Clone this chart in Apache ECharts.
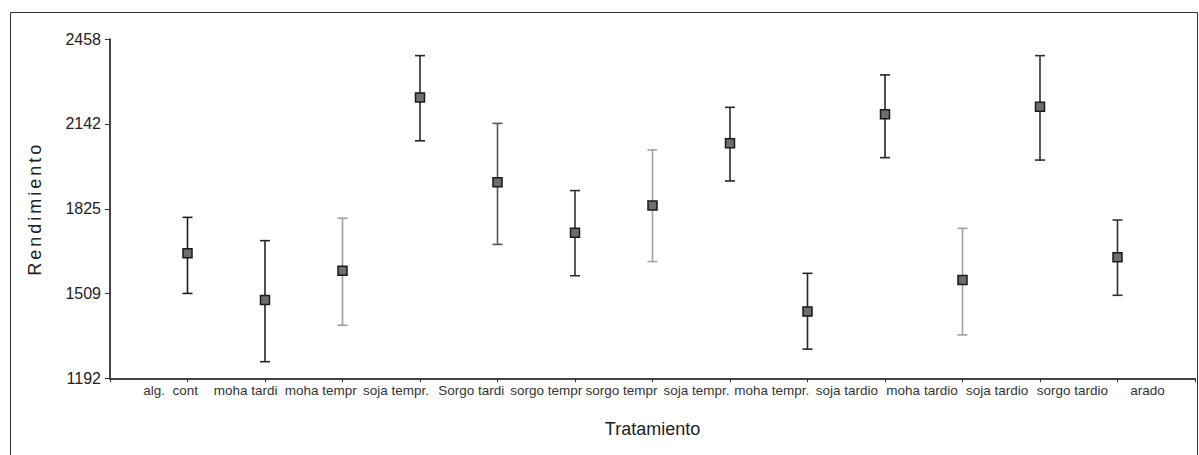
<!DOCTYPE html>
<html>
<head>
<meta charset="utf-8">
<script src="https://cdn.jsdelivr.net/npm/echarts@6/dist/echarts.min.js"></script>
<style>
html,body{margin:0;padding:0;background:#fff;}
#c{width:1199px;height:455px;}
</style>
</head>
<body>
<div id="c"></div>
<script>
// ---- data ----
const tickLabels = ["alg.  cont","moha tardi","moha tempr","soja tempr.","Sorgo tardi","sorgo tempr","sorgo tempr","soja tempr.","moha tempr.","soja tardio","moha tardio","soja tardio","sorgo tardio","arado"];
const means = [1659, 1484, 1594, 2241, 1924, 1736, 1837, 2070, 1441, 2178, 1559, 2206, 1644];
const upper = [1793, 1706, 1790, 2397, 2144, 1893, 2045, 2204, 1584, 2325, 1752, 2397, 1783];
const lower = [1509, 1254, 1390, 2079, 1692, 1575, 1628, 1929, 1301, 2016, 1354, 2007, 1502];
const yTicks = [1192, 1509, 1825, 2142, 2458];

// ---- styles ----
const barColors = ['#1e1e1e','#262626','#9c9c9c','#262626','#555555','#303030','#a2a2a2','#262626','#262626','#262626','#a0a0a0','#303030','#303030'];
const FONT = 'Liberation Sans, Arial, sans-serif';

const chart = echarts.init(document.getElementById('c'), null, {renderer: 'svg'});

const option = {
  animation: false,
  backgroundColor: '#fff',
  graphic: [{
    type: 'rect', silent: true, z: -10,
    shape: {x: 10.5, y: 12.5, width: 1187, height: 470},
    style: {fill: null, stroke: '#333', lineWidth: 1}
  }],
  grid: [
    {left: 110, right: 4, top: 39.3, bottom: 76.7},
    {left: 133, right: 14, top: 377.3, bottom: 76.7}
  ],
  xAxis: [{
    gridIndex: 0, type: 'value', min: 0, max: 14, interval: 1,
    axisLine: {show: true, lineStyle: {color: '#444', width: 2}},
    axisTick: {show: true, length: 4, lineStyle: {color: '#333', width: 1}},
    axisLabel: {show: false},
    splitLine: {show: false},
    name: 'Tratamiento', nameLocation: 'middle', nameGap: 42,
    nameTextStyle: {fontSize: 18, color: '#222', fontFamily: FONT}
  }, {
    gridIndex: 1, type: 'category', data: tickLabels, boundaryGap: true,
    position: 'bottom',
    axisLine: {show: false}, axisTick: {show: false}, splitLine: {show: false},
    axisLabel: {interval: 0, fontSize: 13.5, color: '#333', margin: 5, fontFamily: FONT}
  }],
  yAxis: [{
    gridIndex: 0, type: 'value', min: 1192, max: 2458,
    axisLine: {show: true, lineStyle: {color: '#444', width: 2}},
    axisTick: {show: true, length: 5, customValues: yTicks, lineStyle: {color: '#333', width: 1}},
    axisLabel: {customValues: yTicks, fontSize: 16, color: '#222', margin: 9, fontFamily: FONT,
      formatter: function (v) { return String(Math.round(v)); }},
    splitLine: {show: false},
    name: 'Rendimiento', nameLocation: 'middle', nameGap: 66,
    nameTextStyle: {fontSize: 18, color: '#222', fontFamily: FONT}
  }, {
    gridIndex: 1, type: 'value', show: false
  }],
  series: [{
    type: 'custom',
    xAxisIndex: 0, yAxisIndex: 0,
    data: means.map((m, i) => [i + 1, lower[i], upper[i]]),
    renderItem: function (params, api) {
      const x = api.value(0);
      const top = api.coord([x, api.value(2)]);
      const bot = api.coord([x, api.value(1)]);
      const hw = 5;
      const c = barColors[params.dataIndex];
      const st = {stroke: c, lineWidth: 1.6};
      return {
        type: 'group',
        children: [
          {type: 'line', shape: {x1: top[0], y1: top[1], x2: bot[0], y2: bot[1]}, style: st},
          {type: 'line', shape: {x1: top[0] - hw, y1: top[1], x2: top[0] + hw, y2: top[1]}, style: st},
          {type: 'line', shape: {x1: bot[0] - hw, y1: bot[1], x2: bot[0] + hw, y2: bot[1]}, style: st}
        ]
      };
    },
    z: 2
  }, {
    type: 'scatter',
    xAxisIndex: 0, yAxisIndex: 0,
    data: means.map((m, i) => [i + 1, m]),
    symbol: 'rect', symbolSize: 9,
    itemStyle: {color: '#6e6e6e', borderColor: '#1a1a1a', borderWidth: 1.5, opacity: 1},
    z: 3
  }]
};

chart.setOption(option);

function spaceTitle() {
  document.querySelectorAll('#c text').forEach(function (t) {
    if (t.textContent === 'Rendimiento') t.style.letterSpacing = '3px';
  });
}
chart.on('finished', spaceTitle);
spaceTitle();
setTimeout(spaceTitle, 0);
</script>
</body>
</html>
